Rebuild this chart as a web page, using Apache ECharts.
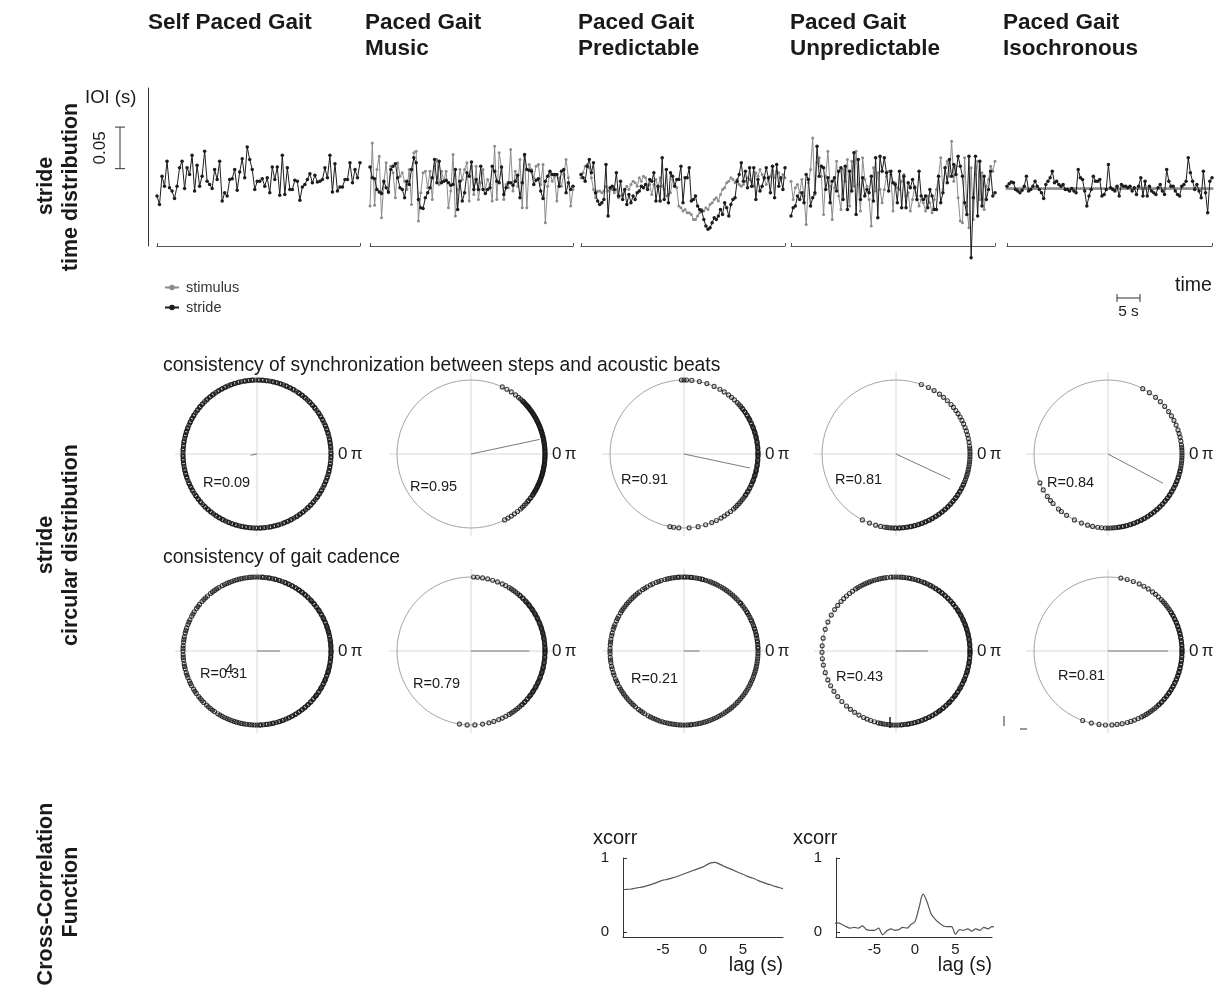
<!DOCTYPE html>
<html>
<head>
<meta charset="utf-8">
<script src="https://cdn.jsdelivr.net/npm/echarts/dist/echarts.min.js"></script>
<style>
  html, body { margin: 0; padding: 0; background: #ffffff; }
  #chart { width: 1217px; height: 993px; }
</style>
</head>
<body>
<div id="chart"></div>
<script>
// ---------- stride time series: inter-onset intervals (s), one value per step ----------
const selfPacedStride = [
  0.480,0.470,0.504,0.492,0.522,0.490,0.486,0.477,0.492,0.514,
  0.522,0.489,0.514,0.506,0.529,0.486,0.517,0.492,0.504,0.534,
  0.498,0.494,0.489,0.512,0.500,0.522,0.474,0.484,0.480,0.500,
  0.501,0.512,0.487,0.509,0.525,0.502,0.539,0.524,0.512,0.488,
  0.498,0.498,0.501,0.492,0.502,0.484,0.515,0.500,0.515,0.481,
  0.529,0.482,0.514,0.488,0.488,0.499,0.498,0.475,0.491,0.494,
  0.500,0.507,0.496,0.505,0.497,0.498,0.500,0.514,0.502,0.529,
  0.485,0.519,0.486,0.491,0.491,0.500,0.500,0.520,0.496,0.512,
  0.502,0.520];

const musicStimulus = [
  0.468,0.544,0.469,0.512,0.528,0.454,0.496,0.520,0.484,0.516,
  0.508,0.478,0.520,0.504,0.508,0.498,0.488,0.512,0.470,0.532,
  0.534,0.450,0.484,0.508,0.510,0.490,0.510,0.476,0.516,0.524,
  0.494,0.510,0.498,0.510,0.466,0.486,0.530,0.456,0.488,0.512,
  0.500,0.512,0.520,0.474,0.516,0.482,0.516,0.476,0.496,0.512,
  0.488,0.500,0.494,0.474,0.540,0.476,0.532,0.514,0.476,0.494,
  0.490,0.536,0.486,0.510,0.492,0.524,0.466,0.528,0.466,0.518,
  0.512,0.502,0.516,0.518,0.494,0.518,0.448,0.492,0.508,0.498,
  0.504,0.474,0.502,0.492,0.506,0.524,0.502,0.468,0.488];
const musicStride = [
  0.515,0.502,0.501,0.488,0.485,0.483,0.498,0.490,0.485,0.512,
  0.516,0.519,0.502,0.490,0.488,0.478,0.498,0.494,0.512,0.526,
  0.520,0.476,0.466,0.465,0.478,0.484,0.490,0.502,0.524,0.496,
  0.522,0.496,0.498,0.499,0.496,0.493,0.494,0.512,0.464,0.498,
  0.474,0.484,0.508,0.504,0.521,0.488,0.500,0.488,0.516,0.488,
  0.483,0.488,0.490,0.516,0.510,0.498,0.496,0.515,0.482,0.490,
  0.496,0.496,0.493,0.498,0.505,0.478,0.496,0.530,0.512,0.511,
  0.510,0.494,0.499,0.501,0.486,0.477,0.498,0.504,0.510,0.506,
  0.506,0.506,0.492,0.510,0.512,0.484,0.496,0.488,0.492];

const predictableStimulus = [
  0.502,0.508,0.516,0.518,0.514,0.502,0.488,0.478,0.486,0.486,
  0.484,0.486,0.492,0.486,0.490,0.488,0.484,0.488,0.478,0.480,
  0.482,0.486,0.492,0.488,0.494,0.498,0.496,0.492,0.502,0.498,
  0.504,0.502,0.492,0.494,0.482,0.494,0.500,0.490,0.502,0.492,
  0.488,0.480,0.482,0.484,0.500,0.494,0.490,0.468,0.466,0.462,
  0.464,0.460,0.460,0.458,0.452,0.452,0.456,0.460,0.464,0.462,
  0.466,0.464,0.470,0.472,0.476,0.478,0.474,0.482,0.488,0.490,
  0.496,0.498,0.502,0.500,0.496,0.500,0.494,0.492,0.494,0.498,
  0.502,0.500,0.498,0.492,0.508,0.504,0.512,0.506,0.500,0.494,
  0.500,0.504,0.516,0.502,0.510,0.508,0.500,0.506,0.502];
const predictableStride = [
  0.506,0.502,0.498,0.516,0.524,0.508,0.520,0.484,0.474,0.470,
  0.472,0.476,0.518,0.456,0.490,0.492,0.488,0.508,0.480,0.498,
  0.476,0.488,0.470,0.482,0.472,0.480,0.476,0.484,0.486,0.492,
  0.490,0.494,0.488,0.500,0.498,0.508,0.474,0.492,0.474,0.526,
  0.476,0.512,0.472,0.508,0.504,0.492,0.500,0.500,0.516,0.472,
  0.502,0.502,0.514,0.474,0.476,0.480,0.468,0.464,0.462,0.452,
  0.444,0.440,0.442,0.448,0.454,0.452,0.456,0.464,0.458,0.472,
  0.466,0.456,0.470,0.476,0.478,0.498,0.506,0.520,0.498,0.510,
  0.490,0.514,0.492,0.514,0.476,0.500,0.486,0.492,0.502,0.514,
  0.502,0.484,0.516,0.478,0.518,0.492,0.502,0.488,0.514];

const unpredictableStimulus = [
  0.498,0.476,0.490,0.494,0.484,0.500,0.480,0.446,0.496,0.512,
  0.550,0.482,0.520,0.526,0.504,0.458,0.504,0.534,0.492,0.452,
  0.490,0.522,0.480,0.464,0.512,0.498,0.524,0.468,0.522,0.492,
  0.534,0.494,0.462,0.526,0.500,0.492,0.476,0.444,0.514,0.486,
  0.508,0.488,0.472,0.488,0.504,0.510,0.506,0.462,0.496,0.490,
  0.488,0.498,0.506,0.480,0.484,0.462,0.476,0.492,0.480,0.468,
  0.476,0.472,0.462,0.480,0.472,0.460,0.476,0.488,0.504,0.526,
  0.488,0.514,0.522,0.504,0.546,0.498,0.516,0.478,0.450,0.448,
  0.526,0.468,0.442,0.514,0.452,0.506,0.522,0.476,0.508,0.464,
  0.492,0.500,0.516,0.510,0.522];
const unpredictableStride = [
  0.456,0.466,0.468,0.480,0.476,0.484,0.472,0.506,0.500,0.468,
  0.478,0.484,0.540,0.504,0.516,0.514,0.488,0.502,0.472,0.498,
  0.502,0.486,0.510,0.514,0.476,0.516,0.464,0.510,0.486,0.532,
  0.458,0.524,0.476,0.502,0.480,0.488,0.484,0.504,0.474,0.526,
  0.454,0.528,0.510,0.526,0.508,0.486,0.510,0.496,0.494,0.472,
  0.510,0.466,0.504,0.466,0.496,0.490,0.500,0.490,0.476,0.510,
  0.480,0.476,0.480,0.466,0.488,0.480,0.464,0.464,0.504,0.472,
  0.484,0.514,0.496,0.524,0.504,0.518,0.506,0.528,0.516,0.504,
  0.472,0.458,0.528,0.406,0.478,0.528,0.456,0.522,0.468,0.504,
  0.476,0.488,0.510,0.480,0.484];

const isochronousStimulus = [
  0.489,0.489,0.489,0.489,0.489,0.489,0.489,0.489,0.489,0.489,
  0.489,0.489,0.489,0.489,0.489,0.489,0.489,0.489,0.489,0.489,
  0.489,0.489,0.489,0.489,0.489,0.489,0.489,0.489,0.489,0.489,
  0.489,0.489,0.489,0.489,0.489,0.489,0.489,0.489,0.489,0.489,
  0.489,0.489,0.489,0.489,0.489,0.489,0.489,0.489,0.489,0.489,
  0.489,0.489,0.489,0.489,0.489,0.489,0.489,0.489,0.489,0.489,
  0.489,0.489,0.489,0.489,0.489,0.489,0.489,0.489,0.489,0.489,
  0.489,0.489,0.489,0.489,0.489,0.489,0.489,0.489,0.489,0.489,
  0.489,0.489,0.489,0.489,0.489,0.489,0.489,0.489,0.489,0.489,
  0.489,0.489,0.489,0.489,0.489,0.489];
const isochronousStride = [
  0.492,0.495,0.497,0.496,0.488,0.486,0.484,0.487,0.492,0.504,
  0.486,0.488,0.492,0.498,0.492,0.488,0.484,0.477,0.494,0.498,
  0.502,0.510,0.496,0.498,0.494,0.492,0.494,0.488,0.488,0.486,
  0.489,0.486,0.484,0.512,0.502,0.500,0.486,0.468,0.480,0.488,
  0.504,0.498,0.498,0.500,0.480,0.482,0.488,0.518,0.490,0.488,
  0.486,0.492,0.480,0.494,0.492,0.492,0.490,0.492,0.486,0.490,
  0.482,0.492,0.502,0.480,0.498,0.480,0.492,0.486,0.484,0.482,
  0.490,0.494,0.486,0.482,0.512,0.498,0.492,0.492,0.486,0.482,
  0.480,0.492,0.494,0.498,0.526,0.508,0.498,0.488,0.494,0.486,
  0.478,0.510,0.484,0.460,0.498,0.502];

// ---------- circular statistics: step phases (deg, 0 = right, counter-clockwise) ----------
const syncR = [0.09, 0.95, 0.91, 0.81, 0.84];
const syncMeanDeg = [190, 12, -12, -25, -28];
const cadenceR = [0.31, 0.79, 0.21, 0.43, 0.81];
const cadenceMeanDeg = [0, 0, 0, 0, 0];

const syncPhasesSelf = [0,1,3,5,6,8,9,11,12,14,16,17,19,20,22,23,25,27,28,30,31,33,34,36,38,39,41,42,44,45,47,49,50,52,53,55,56,58,60,61,63,64,66,67,69,71,72,74,75,77,78,80,82,83,85,86,88,89,91,93,94,96,97,99,100,102,104,105,107,108,110,111,113,115,116,118,119,121,122,124,126,127,129,130,132,133,135,137,138,140,141,143,144,146,148,149,151,152,154,155,157,159,160,162,163,165,166,168,170,171,173,174,176,177,179,181,182,184,185,187,188,190,192,193,195,196,198,199,201,203,204,206,207,209,210,212,214,215,217,218,220,221,223,225,226,228,229,231,232,234,236,237,239,240,242,243,245,247,248,250,251,253,254,256,258,259,261,262,264,265,267,269,270,272,273,275,276,278,280,281,283,284,286,287,289,291,292,294,295,297,298,300,302,303,305,306,308,309,311,313,314,316,317,319,320,322,324,325,327,328,330,331,333,335,336,338,339,341,342,344,346,347,349,350,352,353,355,357,358];
const syncPhasesMusic = [65,61,57,53,50,48,46,45,44,43,42,41,40,39,38,37,36,35,34,33,32,31,30,29,28,27,26,25,24,23,22,21,20,19,18,17,16,15,14,13,12,11,10,9,8,7,6,5,4,3,2,1,0,-1,-2,-3,-4,-5,-6,-7,-8,-9,-10,-11,-12,-13,-14,-15,-16,-17,-18,-19,-20,-21,-22,-23,-24,-25,-26,-27,-28,-29,-30,-31,-32,-33,-34,-36,-37,-39,-40,-42,-44,-46,-48,-51,-54,-57,-60,-63];
const syncPhasesPredictable = [92,90,88,84,78,72,66,61,57,53,50,47,44,42,40,38,37,35,34,32,31,29,28,27,25,24,22,21,20,18,17,16,14,13,12,10,9,8,6,5,4,2,1,0,-1,-2,-4,-5,-6,-8,-9,-10,-12,-13,-14,-16,-17,-18,-20,-21,-22,-24,-25,-27,-28,-30,-31,-33,-34,-36,-38,-40,-42,-44,-46,-48,-51,-54,-57,-60,-64,-68,-73,-79,-86,-94,-98,-101];
const syncPhasesUnpredictable = [70,64,59,54,50,46,42,39,36,33,30,27,24,21,18,15,12,9,6,4,2,0,-2,-4,-6,-8,-10,-12,-14,-16,-18,-20,-22,-24,-25,-27,-28,-30,-31,-33,-34,-36,-37,-39,-40,-42,-43,-45,-46,-48,-49,-51,-52,-54,-55,-57,-58,-60,-61,-63,-64,-66,-67,-69,-70,-72,-73,-75,-76,-78,-79,-81,-82,-84,-85,-87,-88,-90,-91,-93,-95,-97,-99,-102,-106,-111,-117];
const syncPhasesIsochronous = [62,56,50,45,40,35,31,27,23,19,16,13,10,7,5,3,1,-1,-3,-5,-7,-9,-11,-13,-14,-16,-18,-19,-21,-22,-24,-25,-27,-28,-30,-31,-33,-34,-36,-37,-39,-40,-42,-43,-45,-46,-48,-49,-51,-52,-54,-55,-57,-58,-60,-61,-63,-64,-66,-67,-69,-70,-72,-73,-75,-76,-78,-79,-81,-82,-84,-86,-88,-90,-92,-95,-98,-102,-106,-111,-117,-124,-132,-141,203,209,215,222,231];

const cadencePhasesSelf = [0,1,3,4,5,7,8,9,11,12,14,15,16,18,19,20,22,23,25,26,27,29,30,32,33,34,36,37,39,40,42,43,44,46,47,49,50,52,53,55,56,58,59,61,62,64,65,67,68,70,72,73,75,76,78,80,81,83,85,86,88,90,92,94,96,98,100,102,104,106,108,110,112,114,116,118,121,123,125,127,129,132,134,136,138,141,143,145,148,150,152,155,157,159,162,164,166,169,171,173,176,178,180,183,185,187,190,192,194,197,199,201,204,206,208,211,213,215,218,220,222,224,227,229,231,233,235,238,240,242,244,246,248,250,252,254,256,258,260,262,264,266,268,270,272,273,275,277,278,280,282,283,285,287,288,290,291,293,295,296,298,299,301,302,304,305,307,308,310,311,313,314,316,317,319,320,322,323,324,326,327,329,330,331,333,334,336,337,338,340,341,343,344,345,347,348,349,351,352,354,355,356,358,359];
const cadencePhasesMusic = [88,85,81,77,73,69,65,62,59,57,55,53,51,49,48,46,45,43,42,41,39,38,37,35,34,33,31,30,29,27,26,25,23,22,21,19,18,17,15,14,13,11,10,9,7,6,5,3,2,1,0,-1,-2,-4,-5,-6,-8,-9,-10,-12,-13,-14,-16,-17,-18,-20,-21,-22,-24,-25,-26,-28,-29,-30,-32,-33,-34,-36,-37,-38,-40,-41,-43,-44,-46,-47,-49,-51,-53,-55,-57,-59,-62,-65,-68,-72,-76,-81,-87,-93,-99];
const cadencePhasesPredictable = [0,2,3,5,7,8,10,12,13,15,17,18,20,22,24,25,27,29,31,32,34,36,38,40,41,43,45,47,49,51,53,55,57,59,61,63,65,67,69,71,73,75,76,78,80,82,84,85,87,89,90,92,94,95,97,99,101,103,105,108,110,112,115,117,120,122,124,127,129,131,133,135,137,139,141,143,145,147,149,152,154,156,159,161,163,166,168,171,173,175,178,180,182,185,187,189,192,194,197,199,202,204,206,209,211,213,215,217,219,221,223,225,227,229,232,234,236,238,241,243,245,247,249,251,253,255,257,259,261,263,265,267,269,271,273,275,276,278,280,282,284,286,288,290,292,294,296,298,300,302,304,306,308,310,312,314,316,318,320,322,324,326,328,330,332,334,336,338,340,342,344,346,348,350,352,354,356,358];
const cadencePhasesUnpredictable = [0,1,2,4,5,6,8,9,10,12,13,14,16,17,18,20,21,22,24,25,26,28,29,30,32,33,34,36,37,39,40,42,43,45,46,48,49,51,52,54,55,57,58,60,62,63,65,67,68,70,72,73,75,77,79,80,82,84,86,88,90,92,94,97,99,101,103,105,107,109,111,113,115,117,119,121,123,126,129,132,135,138,142,146,151,157,163,170,176,181,186,191,197,203,208,213,218,223,228,232,236,240,244,247,250,253,256,258,260,262,264,266,268,270,272,274,275,277,279,280,282,284,285,287,288,290,291,293,294,296,297,299,300,302,303,305,306,307,309,310,312,313,315,316,317,319,320,322,323,324,326,327,329,330,331,333,334,336,337,338,340,341,343,344,345,347,348,350,351,352,354,355,357,358,359];
const cadencePhasesIsochronous = [80,75,70,65,61,57,53,50,47,44,42,40,38,36,34,32,31,29,28,26,25,23,22,20,19,17,16,14,13,11,10,8,7,5,4,2,1,0,-1,-2,-4,-5,-7,-8,-10,-11,-13,-14,-16,-17,-19,-20,-22,-23,-25,-26,-28,-29,-31,-32,-34,-35,-37,-38,-40,-41,-43,-44,-46,-47,-49,-51,-53,-55,-57,-59,-61,-63,-66,-69,-72,-75,-79,-83,-87,-92,-97,-103,-110];

// ---------- cross-correlation of stride and stimulus series ----------
const xcorrLag = [-10,-9.5,-9,-8.5,-8,-7.5,-7,-6.5,-6,-5.5,-5,-4.5,-4,-3.5,-3,-2.5,-2,-1.5,-1,-0.5,0,0.5,1,1.5,2,2.5,3,3.5,4,4.5,5,5.5,6,6.5,7,7.5,8,8.5,9,9.5,10];
const xcorrPredictable = [0.57,0.575,0.58,0.59,0.60,0.61,0.625,0.64,0.66,0.68,0.70,0.71,0.725,0.74,0.76,0.78,0.80,0.82,0.84,0.86,0.88,0.91,0.935,0.94,0.92,0.895,0.87,0.85,0.825,0.80,0.78,0.755,0.735,0.715,0.69,0.67,0.65,0.635,0.615,0.60,0.585];
const xcorrUnpredictable = [0.11,0.12,0.10,0.07,0.05,0.06,0.05,0.08,0.03,0.02,0.02,0.05,-0.04,0.01,0.04,0.02,0.03,0.06,0.05,0.10,0.14,0.33,0.51,0.40,0.24,0.17,0.12,0.08,0.07,0.07,-0.03,0.03,0.02,0.04,0.01,0.04,0.02,0.06,0.04,0.07,0.06];

// ---------- text ----------
const conditionTitles = [
  ['Self Paced Gait'],
  ['Paced Gait', 'Music'],
  ['Paced Gait', 'Predictable'],
  ['Paced Gait', 'Unpredictable'],
  ['Paced Gait', 'Isochronous']
];
const syncTitle = 'consistency of synchronization between steps and acoustic beats';
const cadenceTitle = 'consistency of gait cadence';

// ---------- layout ----------
const FONT = "'Liberation Sans', Arial, sans-serif";
const INK = '#1a1a1a';
const titleX = [148, 365, 578, 790, 1003];
const tsPanels = [
  { left: 157, width: 203, stim: null, stride: selfPacedStride },
  { left: 370, width: 203, stim: musicStimulus, stride: musicStride },
  { left: 581, width: 204, stim: predictableStimulus, stride: predictableStride },
  { left: 791, width: 204, stim: unpredictableStimulus, stride: unpredictableStride },
  { left: 1007, width: 205, stim: isochronousStimulus, stride: isochronousStride }
];
const IOI_MIN = 0.42, IOI_MAX = 0.61;
const colX = [257, 471, 684, 896, 1108];
const rowY = [454, 651];
const syncLabelPos = [[203, 483], [410, 487], [621, 480], [835, 480], [1047, 483]];
const cadLabelPos = [[200, 674], [413, 684], [631, 679], [836, 677], [1058, 676]];

const chart = echarts.init(document.getElementById('chart'), null, { renderer: 'canvas' });

const grid = [], xAxis = [], yAxis = [], series = [];
const polar = [], angleAxis = [], radiusAxis = [];

// stride-time panels
tsPanels.forEach((p, i) => {
  const n = p.stride.length;
  grid.push({ left: p.left, top: 88, width: p.width, height: 158 });
  xAxis.push({
    gridIndex: i, type: 'value', min: 0, max: n - 1, interval: n - 1,
    axisLine: { show: true, onZero: false, lineStyle: { color: '#555', width: 1 } },
    axisTick: { show: true, inside: true, length: 3, lineStyle: { color: '#555' } },
    axisLabel: { show: false }, splitLine: { show: false }
  });
  yAxis.push({
    gridIndex: i, type: 'value', min: IOI_MIN, max: IOI_MAX, offset: i === 0 ? 9 : 0,
    axisLine: { show: i === 0, onZero: false, lineStyle: { color: '#333', width: 1 } },
    axisTick: { show: false }, axisLabel: { show: false }, splitLine: { show: false }
  });
  if (p.stim) {
    series.push({
      name: 'stimulus', type: 'line', xAxisIndex: i, yAxisIndex: i, clip: false,
      data: p.stim.map((v, k) => [k, v]),
      symbol: 'circle', symbolSize: 3, showAllSymbol: true,
      lineStyle: { color: '#8c8c8c', width: 1 }, itemStyle: { color: '#8c8c8c' }, z: 2
    });
  }
  series.push({
    name: 'stride', type: 'line', xAxisIndex: i, yAxisIndex: i, clip: false,
    data: p.stride.map((v, k) => [k, v]),
    symbol: 'circle', symbolSize: 3.5, showAllSymbol: true,
    lineStyle: { color: '#1c1c1c', width: 1 }, itemStyle: { color: '#1c1c1c' }, z: 3
  });
});

// cross-correlation panels
const xcPanels = [
  { left: 623, width: 160, min: -10, max: 10, values: xcorrPredictable },
  { left: 836, width: 156, min: -9.75, max: 9.5, values: xcorrUnpredictable }
];
xcPanels.forEach((p) => {
  const gi = grid.length;
  grid.push({ left: p.left, top: 858, width: p.width, height: 79 });
  xAxis.push({
    gridIndex: gi, type: 'value', min: p.min, max: p.max,
    axisLine: { show: true, onZero: false, lineStyle: { color: '#333', width: 1 } },
    axisTick: { show: false },
    axisLabel: { show: true, customValues: [-5, 0, 5], fontSize: 15, color: INK, fontFamily: FONT, margin: 5 },
    splitLine: { show: false }
  });
  yAxis.push({
    gridIndex: gi, type: 'value', min: -0.07, max: 1,
    axisLine: { show: true, onZero: false, lineStyle: { color: '#333', width: 1 } },
    axisTick: { show: true, inside: true, length: 4, customValues: [0, 1], lineStyle: { color: '#333' } },
    axisLabel: { show: true, customValues: [0, 1], fontSize: 15, color: INK, fontFamily: FONT, margin: 14 },
    splitLine: { show: false }
  });
  series.push({
    type: 'line', xAxisIndex: gi, yAxisIndex: gi, clip: true,
    data: xcorrLag.map((l, k) => [l, p.values[k]]),
    symbol: 'none', smooth: 0.35,
    lineStyle: { color: '#555', width: 1.2 }, silent: true
  });
});

// circular plots
function addCircle(cx, cy, phases, R, meanDeg) {
  const outer = polar.length;
  polar.push({ center: [cx, cy], radius: 82 });
  angleAxis.push({
    polarIndex: outer, type: 'value', min: 0, max: 360, interval: 90, startAngle: 0, clockwise: false,
    axisLine: { show: false }, axisTick: { show: false }, axisLabel: { show: false },
    splitLine: { show: true, lineStyle: { color: '#d8d8d8', width: 1 } }
  });
  radiusAxis.push({
    polarIndex: outer, type: 'value', min: 0, max: 1,
    axisLine: { show: false }, axisTick: { show: false }, axisLabel: { show: false }, splitLine: { show: false }
  });
  const inner = polar.length;
  polar.push({ center: [cx, cy], radius: 74 });
  angleAxis.push({
    polarIndex: inner, type: 'value', min: 0, max: 360, startAngle: 0, clockwise: false,
    axisLine: { show: true, lineStyle: { color: '#a4a4a4', width: 1 } },
    axisTick: { show: false }, axisLabel: { show: false }, splitLine: { show: false }
  });
  radiusAxis.push({
    polarIndex: inner, type: 'value', min: 0, max: 1,
    axisLine: { show: false }, axisTick: { show: false }, axisLabel: { show: false }, splitLine: { show: false }
  });
  series.push({
    type: 'scatter', coordinateSystem: 'polar', polarIndex: inner, silent: true,
    data: phases.map(a => [1, (a + 360) % 360]),
    symbol: 'circle', symbolSize: 4,
    itemStyle: { color: 'rgba(255,255,255,0)', borderColor: '#141414', borderWidth: 1.15 }, z: 3
  });
  const m = (meanDeg + 360) % 360;
  series.push({
    type: 'line', coordinateSystem: 'polar', polarIndex: inner, silent: true,
    data: [[0, m], [R, m]], symbol: 'none',
    lineStyle: { color: '#7a7a7a', width: 1 }, z: 4
  });
}
const syncSets = [syncPhasesSelf, syncPhasesMusic, syncPhasesPredictable, syncPhasesUnpredictable, syncPhasesIsochronous];
const cadSets = [cadencePhasesSelf, cadencePhasesMusic, cadencePhasesPredictable, cadencePhasesUnpredictable, cadencePhasesIsochronous];
colX.forEach((cx, c) => addCircle(cx, rowY[0], syncSets[c], syncR[c], syncMeanDeg[c]));
colX.forEach((cx, c) => addCircle(cx, rowY[1], cadSets[c], cadenceR[c], cadenceMeanDeg[c]));

chart.setOption({
  animation: false,
  backgroundColor: '#ffffff',
  textStyle: { fontFamily: FONT },
  grid, xAxis, yAxis, polar, angleAxis, radiusAxis, series,
  legend: {
    show: true, orient: 'vertical', left: 159, top: 275, itemWidth: 14, itemHeight: 7, itemGap: 5,
    selectedMode: false, data: ['stimulus', 'stride'],
    textStyle: { fontSize: 14.5, color: '#333', fontFamily: FONT, padding: [0, 0, 0, 2] }
  }
});

// ---------- annotations ----------
function txt(x, y, s, font, opts) {
  opts = opts || {};
  return {
    type: 'text', x: x, y: y, rotation: opts.rotation || 0, silent: true,
    style: { text: s, font: font, fill: opts.fill || INK, textAlign: opts.align || 'left', textVerticalAlign: 'middle' }
  };
}
function seg(x1, y1, x2, y2, color, w) {
  return { type: 'line', silent: true, shape: { x1, y1, x2, y2 }, style: { stroke: color || '#333', lineWidth: w || 1 } };
}
const g = [];
const headFont = 'bold 22.5px ' + FONT;
conditionTitles.forEach((lines, c) => {
  lines.forEach((s, k) => g.push(txt(titleX[c], 23 + k * 26, s, headFont)));
});
// row labels (vertical)
const rowFont = 'bold 21.5px ' + FONT;
const vert = { rotation: Math.PI / 2, align: 'center' };
g.push(txt(46, 186, 'stride', rowFont, vert));
g.push(txt(71, 187, 'time distribution', rowFont, vert));
g.push(txt(46, 545, 'stride', rowFont, vert));
g.push(txt(71, 545, 'circular distribution', rowFont, vert));
g.push(txt(46, 894, 'Cross-Correlation', rowFont, vert));
g.push(txt(71, 892, 'Function', rowFont, vert));

// IOI axis label and 0.05 s scale bar (placed through the axis scale)
g.push(txt(85, 98, 'IOI (s)', '18.5px ' + FONT));
const barTop = chart.convertToPixel({ yAxisIndex: 0 }, 0.563);
const barBot = chart.convertToPixel({ yAxisIndex: 0 }, 0.513);
g.push(seg(120, barTop, 120, barBot, '#333', 1));
g.push(seg(115, barTop, 125, barTop, '#333', 1));
g.push(seg(115, barBot, 125, barBot, '#333', 1));
g.push(txt(100, (barTop + barBot) / 2, '0.05', '17px ' + FONT, vert));

// time scale bar
g.push(seg(1117, 298, 1140, 298, '#333', 1));
g.push(seg(1117, 294, 1117, 302, '#333', 1));
g.push(seg(1140, 294, 1140, 302, '#333', 1));
g.push(txt(1128.5, 312, '5 s', '15.5px ' + FONT, { align: 'center' }));
g.push(txt(1175, 286, 'time', '19.5px ' + FONT));

// circular plot titles and labels
g.push(txt(163, 366, syncTitle, '19.3px ' + FONT));
g.push(txt(163, 558, cadenceTitle, '19.3px ' + FONT));
colX.forEach((cx, c) => {
  g.push(txt(cx + 81, rowY[0], '0\u2009\u03c0', '17px ' + FONT));
  g.push(txt(cx + 81, rowY[1], '0\u2009\u03c0', '17px ' + FONT));
  g.push(txt(syncLabelPos[c][0], syncLabelPos[c][1], 'R=' + syncR[c].toFixed(2), '14.5px ' + FONT));
  g.push(txt(cadLabelPos[c][0], cadLabelPos[c][1], 'R=' + cadenceR[c].toFixed(2), '14.5px ' + FONT));
});
g.push(txt(225, 670, '4', '15px ' + FONT));
g.push(seg(890, 717, 890, 728, '#222', 1.5));
g.push(seg(1004, 716, 1004, 726, '#333', 1));
g.push(seg(1020, 729, 1027, 729, '#333', 1));

// cross-correlation labels
g.push(txt(593, 838, 'xcorr', '20px ' + FONT));
g.push(txt(793, 838, 'xcorr', '20px ' + FONT));
g.push(txt(783, 966, 'lag (s)', '19.5px ' + FONT, { align: 'right' }));
g.push(txt(992, 966, 'lag (s)', '19.5px ' + FONT, { align: 'right' }));

chart.setOption({ graphic: { elements: g } });
</script>
</body>
</html>
